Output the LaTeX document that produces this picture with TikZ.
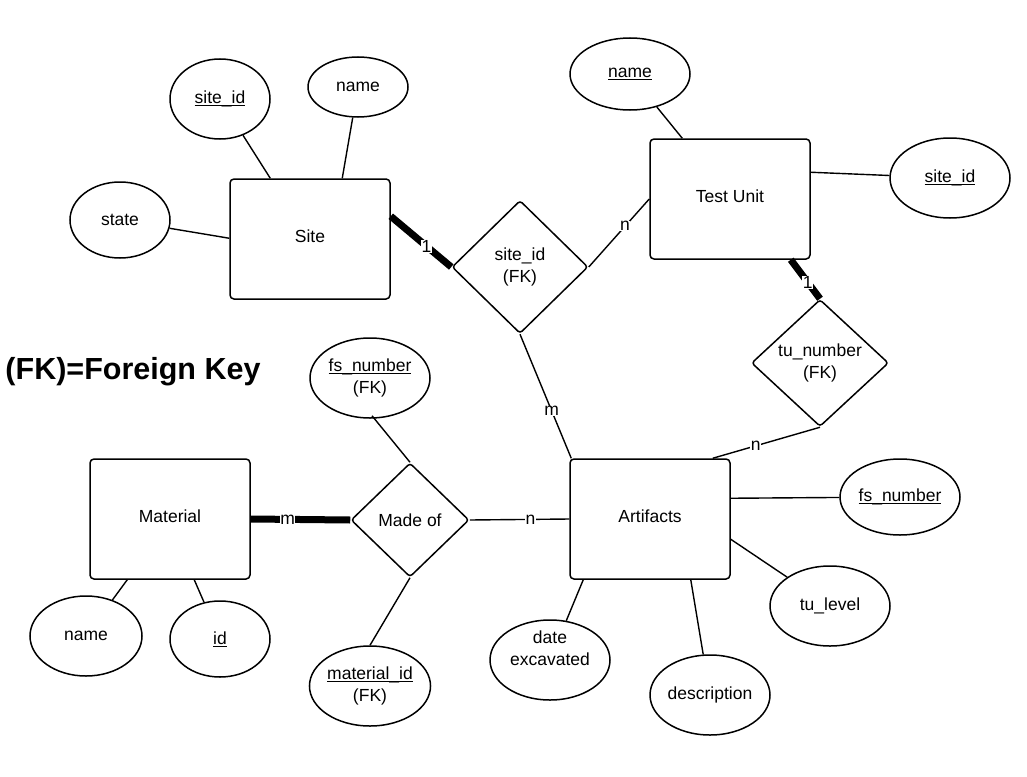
\documentclass[tikz,border=0pt]{standalone}
\usepackage{fontspec}
\setmainfont{Liberation Sans}
\usetikzlibrary{shapes.geometric,calc}
\newcommand{\ulin}[1]{\setbox0\hbox{#1}\rlap{\rule[-2.6pt]{\wd0}{1.1pt}}\box0}
\begin{document}
\begin{tikzpicture}[x=1pt,y=-1pt,
  every node/.style={font=\fontsize{17.5}{22}\selectfont, inner sep=0pt},
  ent/.style={draw, line width=1.5pt, rounded corners=4pt, minimum width=160pt, minimum height=120pt, text depth=6pt},
  rel/.style={draw, diamond, line width=1.5pt, rounded corners=3pt, align=center},
  attr/.style={draw, ellipse, line width=1.5pt, align=center},
  conn/.style={line width=1.4pt},
  heavy/.style={line width=7pt},
  card/.style={fill=white, inner sep=0.5pt}
]
\useasboundingbox (0,0) rectangle (1027,776);

% entities
\node[ent] (site) at (310,239) {Site};
\node[ent] (tu) at (730,199) {Test Unit};
\node[ent] (mat) at (170,519) {Material};
\node[ent] (art) at (650,519) {Artifacts};

% relationships
\node[rel, minimum width=136pt, minimum height=133pt] (d1) at (520,267) {site\_id\\(FK)};
\node[rel, minimum width=137pt, minimum height=127pt] (d2) at (820,363) {tu\_number\\(FK)};
\node[rel, minimum width=118pt, minimum height=114pt] (mo) at (410,520) {Made of};

% attributes
\node[attr, minimum width=100pt, minimum height=80pt] (siteid) at (220,99) {\ulin{site\_id}};
\node[attr, minimum width=100pt, minimum height=60pt] (sitename) at (358,87) {name};
\node[attr, minimum width=100pt, minimum height=76pt] (state) at (120,220) {state};
\node[attr, minimum width=120pt, minimum height=72pt] (tuname) at (630,74) {\ulin{name}};
\node[attr, minimum width=120pt, minimum height=80pt] (tusiteid) at (950,178) {\ulin{site\_id}};
\node[attr, minimum width=120pt, minimum height=80pt] (fsnfk) at (370,378) {\ulin{fs\_number}\\(FK)};
\node[attr, minimum width=120pt, minimum height=76pt] (fsn) at (900,497) {\ulin{fs\_number}};
\node[attr, minimum width=120pt, minimum height=80pt] (tulevel) at (830,606) {tu\_level};
\node[attr, minimum width=120pt, minimum height=80pt] (desc) at (710,695) {description};
\node[attr, minimum width=120pt, minimum height=80pt] (date) at (550,660) {};
\node[align=center] (datetext) at (550,648) {date\\excavated};
\node[attr, minimum width=120pt, minimum height=80pt] (matid) at (370,686) {\ulin{material\_id}\\(FK)};
\node[attr, minimum width=112pt, minimum height=80pt] (matname) at (86,636) {name};
\node[attr, minimum width=100pt, minimum height=76pt] (id) at (220,639) {\ulin{id}};

% legend
\node[font=\fontsize{30.5}{36}\selectfont\bfseries] (legend) at (133,372) {(FK)=Foreign Key};

% attribute connectors
\draw[conn] (siteid) -- ($(site.north west)+(41,0)$);
\draw[conn] (sitename) -- ($(site.north west)+(113,0)$);
\draw[conn] (state) -- ($(site.north west)+(0,60)$);
\draw[conn] (tuname) -- ($(tu.north west)+(33,0)$);
\draw[conn] (tusiteid) -- ($(tu.north east)+(0,34)$);
\draw[conn] ($(art.north east)+(0,40)$) -- (fsn);
\draw[conn] ($(art.north east)+(0,81)$) -- (tulevel);
\draw[conn] ($(art.south east)+(-40,0)$) -- (desc);
\draw[conn] ($(art.south west)+(14,0)$) -- (date);
\draw[conn] ($(fsnfk.south)+(2,-3)$) -- (mo.north);
\draw[conn] (mo.south) -- ($(matid.north)+(0,0)$);
\draw[conn] ($(mat.south west)+(38,0)$) -- (matname);
\draw[conn] ($(mat.south west)+(105,0)$) -- (id);

% relationship connectors
\draw[heavy] ($(site.north east)+(0,38)$) -- node[card, pos=0.59] {1} (d1.west);
\draw[conn] (d1.east) -- node[card, pos=0.6] {n} (tu.west);
\draw[conn] (d1.south) -- node[card, pos=0.62] {m} ($(art.north west)+(2,0)$);
\draw[heavy] ($(tu.south east)+(-20,0)$) -- node[card, pos=0.58] {1} (d2.north);
\draw[conn] (d2.south) -- node[card, pos=0.6] {n} ($(art.north east)+(-18,0)$);
\draw[conn] (mo.east) -- node[card, pos=0.61] {n} (art.west);
\draw[heavy] (mat.east) -- node[card, pos=0.37] {m} (mo.west);
\end{tikzpicture}
\end{document}
